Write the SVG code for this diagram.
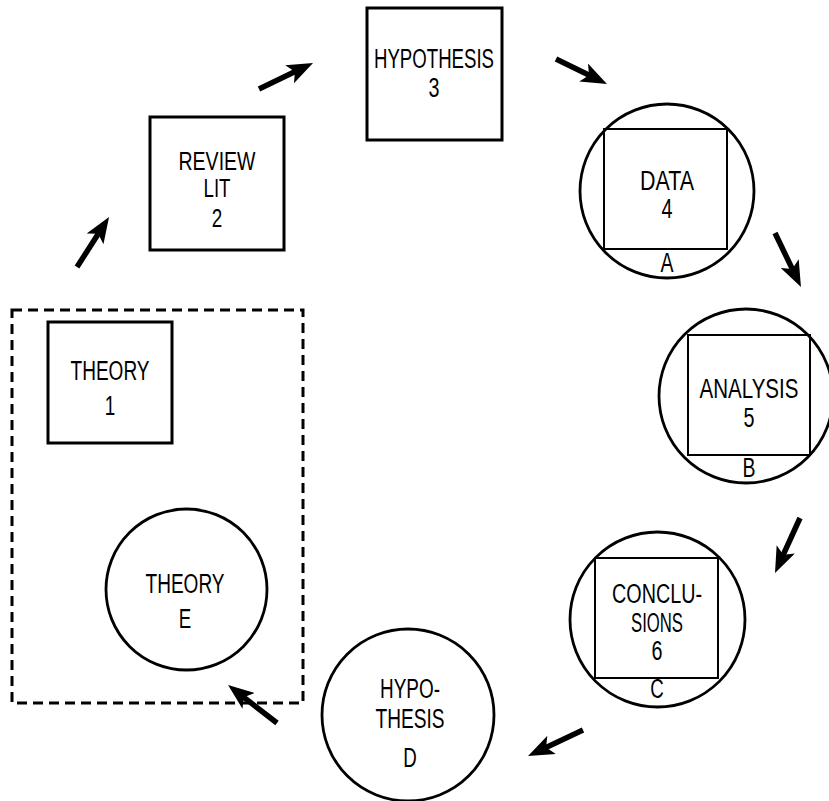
<svg xmlns="http://www.w3.org/2000/svg" width="829" height="801" viewBox="0 0 829 801">
<style>
.bg{fill:#fff}
.box{fill:none;stroke:#000;stroke-width:3}
.inner{fill:none;stroke:#000;stroke-width:2}
.circ{fill:none;stroke:#000;stroke-width:2.8}
.dash{fill:none;stroke:#000;stroke-width:3;stroke-dasharray:10 6}
.t{font-family:"Liberation Sans",Arial,sans-serif;font-size:27px;fill:#000;text-anchor:middle}
.s{font-size:25px}
.arr{stroke:#000;stroke-width:5.5;fill:none;marker-end:url(#head)}
</style>
<defs>
<marker id="head" markerUnits="userSpaceOnUse" markerWidth="26" markerHeight="20" viewBox="0 0 26 20" refX="12" refY="10" orient="auto">
<path d="M0,0 L26,10 L0,20 L6,10 Z" fill="#000"/>
</marker>
</defs>
<rect class="bg" width="829" height="801"/>

<g id="container">
<rect class="dash" x="12" y="310" width="291" height="393"/>
</g>

<g id="theory1">
<rect class="box" x="48" y="322" width="124" height="121"/>
<text class="t" x="110" y="380" textLength="79" lengthAdjust="spacingAndGlyphs">THEORY</text>
<text class="t" x="110" y="415" textLength="10.5" lengthAdjust="spacingAndGlyphs">1</text>
</g>

<g id="review">
<rect class="box" x="150" y="117" width="134" height="133"/>
<text class="t s" x="217" y="170" textLength="77" lengthAdjust="spacingAndGlyphs">REVIEW</text>
<text class="t s" x="217" y="197" textLength="27" lengthAdjust="spacingAndGlyphs">LIT</text>
<text class="t s" x="217" y="227" textLength="10.5" lengthAdjust="spacingAndGlyphs">2</text>
</g>

<g id="hypothesis3">
<rect class="box" x="367" y="8" width="135" height="132"/>
<text class="t" x="434" y="68" textLength="120" lengthAdjust="spacingAndGlyphs">HYPOTHESIS</text>
<text class="t" x="434" y="97" textLength="11" lengthAdjust="spacingAndGlyphs">3</text>
</g>

<g id="data">
<circle class="circ" cx="667" cy="191" r="87"/>
<rect class="inner" x="604" y="129" width="123" height="120"/>
<text class="t" x="667" y="190" textLength="54" lengthAdjust="spacingAndGlyphs">DATA</text>
<text class="t" x="667" y="218" textLength="11" lengthAdjust="spacingAndGlyphs">4</text>
<text class="t" x="667" y="272" textLength="13" lengthAdjust="spacingAndGlyphs">A</text>
</g>

<g id="analysis">
<circle class="circ" cx="746" cy="396" r="87"/>
<rect class="inner" x="688" y="335" width="122" height="120"/>
<text class="t" x="749" y="398" textLength="99" lengthAdjust="spacingAndGlyphs">ANALYSIS</text>
<text class="t" x="749" y="427" textLength="11" lengthAdjust="spacingAndGlyphs">5</text>
<text class="t" x="749" y="477" textLength="13" lengthAdjust="spacingAndGlyphs">B</text>
</g>

<g id="conclusions">
<circle class="circ" cx="657.5" cy="619.5" r="87.5"/>
<rect class="inner" x="595" y="558" width="123" height="120"/>
<text class="t" x="657" y="603" textLength="90" lengthAdjust="spacingAndGlyphs">CONCLU-</text>
<text class="t" x="657" y="632" textLength="52" lengthAdjust="spacingAndGlyphs">SIONS</text>
<text class="t" x="657" y="660" textLength="11" lengthAdjust="spacingAndGlyphs">6</text>
<text class="t" x="657" y="698" textLength="13.5" lengthAdjust="spacingAndGlyphs">C</text>
</g>

<g id="hypothesisD">
<circle class="circ" cx="408" cy="715" r="86"/>
<text class="t" x="410" y="698" textLength="60" lengthAdjust="spacingAndGlyphs">HYPO-</text>
<text class="t" x="410" y="728" textLength="69" lengthAdjust="spacingAndGlyphs">THESIS</text>
<text class="t" x="410" y="767" textLength="13.5" lengthAdjust="spacingAndGlyphs">D</text>
</g>

<g id="theoryE">
<circle class="circ" cx="186.5" cy="589.5" r="80.5"/>
<text class="t" x="185" y="593" textLength="79" lengthAdjust="spacingAndGlyphs">THEORY</text>
<text class="t" x="185" y="628" textLength="12.5" lengthAdjust="spacingAndGlyphs">E</text>
</g>

<g id="connectors">
<line class="arr" x1="77" y1="267" x2="101.5" y2="228.8"/>
<line class="arr" x1="259" y1="89" x2="300.4" y2="69.1"/>
<line class="arr" x1="556" y1="59" x2="594.4" y2="77.8"/>
<line class="arr" x1="775" y1="233" x2="794.9" y2="274.4"/>
<line class="arr" x1="800" y1="518" x2="780.8" y2="560.2"/>
<line class="arr" x1="583" y1="730" x2="540.7" y2="750"/>
<line class="arr" x1="277" y1="723" x2="239.1" y2="693.6"/>
</g>
</svg>
